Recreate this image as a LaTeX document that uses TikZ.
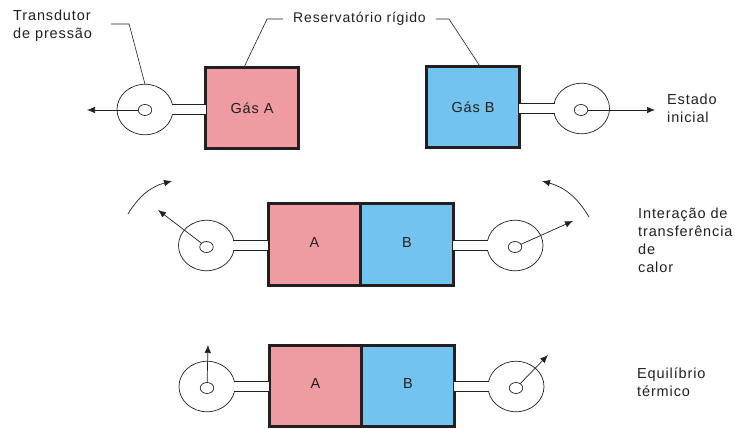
\documentclass[tikz,border=0pt]{standalone}
\usepackage{fontspec}
\setmainfont[LetterSpace=6]{Liberation Sans}
\usetikzlibrary{positioning,arrows.meta,shapes.geometric}
\definecolor{ink}{HTML}{231F20}
\definecolor{gaspink}{HTML}{EE9CA2}
\definecolor{gasblue}{HTML}{72C3EF}

\begin{document}
\begin{tikzpicture}[
        x=1pt, y=-1pt,
        >={Latex[length=8pt,width=6.5pt]},
        every node/.style={text=ink, font=\fontsize{14.5}{18}\selectfont},
        tank/.style={draw=ink, line width=2.6pt, minimum width=92.5pt, minimum height=81.5pt, outer sep=0pt, inner sep=0pt},
        half/.style={tank, text depth=4pt},
        gauge/.style={draw=ink, ellipse, line width=0.7pt, minimum width=56pt, minimum height=50.5pt, inner sep=0pt, outer sep=0pt},
        hole/.style={draw=ink, ellipse, line width=0.7pt, minimum width=13.5pt, minimum height=11pt, inner sep=0pt, outer sep=0pt},
        tube/.style={draw=ink, double=white, line width=0.8pt, double distance=9.2pt, shorten <=-1.2pt},
        pointer/.style={->, draw=ink, line width=0.7pt},
        leader/.style={draw=ink, line width=0.6pt},
        label/.style={anchor=west, align=left, inner sep=0pt}
    ]
        \useasboundingbox (0,0) rectangle (735,428);

        % Nodes
        \node[tank, fill=gaspink] (tankA) at (252,108) {G\'as A};
        \node[tank, fill=gasblue] (tankB) at (473,107) {G\'as B};
        \node[half, fill=gaspink] (midA) at (314.5,244.5) {A};
        \node[half, fill=gasblue] (midB) [right=0pt of midA] {B};
        \node[half, fill=gaspink] (lowA) at (315.5,386) {A};
        \node[half, fill=gasblue] (lowB) [right=0pt of lowA] {B};

        \node[gauge] (gaugeA) at (145,109.5) {};
        \node[gauge] (gaugeB) at (581.5,108.5) {};
        \node[gauge] (gaugeC) at (206.5,245.5) {};
        \node[gauge] (gaugeD) at (515,245.5) {};
        \node[gauge] (gaugeE) at (207,386.5) {};
        \node[gauge] (gaugeF) at (516,386.5) {};

        \node[hole] (holeA) at (145,110) {};
        \node[hole] (holeB) at (581,110) {};
        \node[hole] (holeC) at (206.5,247) {};
        \node[hole] (holeD) at (515,247) {};
        \node[hole] (holeE) at (207,388) {};
        \node[hole] (holeF) at (516,388) {};

        \node[label] (transducer) at (13,26) {Transdutor\\de press\~ao};
        \node[label, font=\fontsize{14}{18}\selectfont] (reservoir) at (293,19) {Reservat\'orio r\'igido};
        \node[label] (initial) at (667,108) {Estado\\inicial};
        \node[label] (exchange) at (638,240) {Intera\c{c}\~ao de\\transfer\^encia\\de\\calor};
        \node[label] (balance) at (637,382) {Equil\'ibrio\\t\'ermico};

        % Free ends
        \coordinate (tipA) at (87,110);
        \coordinate (tipB) at (655,110);
        \coordinate (tipC) at (158,210);
        \coordinate (tipD) at (573,221);
        \coordinate (tipE) at (208,345);
        \coordinate (tipF) at (548,355);
        \coordinate (swingL) at (128,214);
        \coordinate (swingLtip) at (172,181);
        \coordinate (swingR) at (589,217);
        \coordinate (swingRtip) at (542,181);

        % Tubes
        \draw[tube] (gaugeA.east) -- (gaugeA.east -| tankA.west);
        \draw[tube] (gaugeB.west) -- (gaugeB.west -| tankB.east);
        \draw[tube] (gaugeC.east) -- (gaugeC.east -| midA.west);
        \draw[tube] (gaugeD.west) -- (gaugeD.west -| midB.east);
        \draw[tube] (gaugeE.east) -- (gaugeE.east -| lowA.west);
        \draw[tube] (gaugeF.west) -- (gaugeF.west -| lowB.east);

        % Arrows
        \draw[pointer] (holeA) -- (tipA);
        \draw[pointer] (holeB) -- (tipB);
        \draw[pointer] (holeC) -- (tipC);
        \draw[pointer] (holeD) -- (tipD);
        \draw[pointer] (holeE) -- (tipE);
        \draw[pointer] (holeF) -- (tipF);
        \draw[pointer] (swingL) to[bend left=22] (swingLtip);
        \draw[pointer] (swingR) to[bend right=22] (swingRtip);

        % Leaders
        \draw[leader] ([xshift=19pt,yshift=2pt]transducer.east) -- ++(18,0) -- (gaugeA.north);
        \draw[leader] ([xshift=-10pt]reservoir.west) -- ++(-16,0) -- (tankA.north -| 244,0);
        \draw[leader] ([xshift=10pt]reservoir.east) -- ++(13,0) -- (tankB.north -| 480,0);
    \end{tikzpicture}
\end{document}
